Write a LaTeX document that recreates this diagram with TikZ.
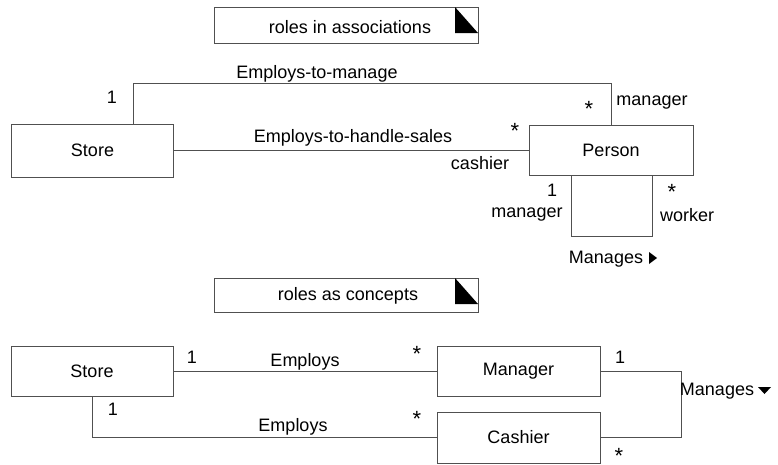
\documentclass[tikz,border=0pt]{standalone}
\usepackage{fontspec}
\setmainfont{Liberation Sans}
\usepackage{tikz}
\definecolor{linec}{HTML}{505050}

\begin{document}
\begin{tikzpicture}[x=1pt, y=-1pt,
  every node/.style={font=\fontsize{18}{20}\selectfont},
  cls/.style={draw=linec, line width=0.9pt, fill=white, minimum height=50pt, inner sep=0pt},
  lbl/.style={inner sep=0pt},
  mult/.style={inner sep=0pt, font=\fontsize{22}{24}\selectfont},
  assoc/.style={draw=linec, line width=0.9pt}]
  \useasboundingbox (0,0) rectangle (778,464);

  % notes
  \draw[assoc] (214,7) rectangle (478,43);
  \fill (455,7) -- (455,33) -- (478,33) -- cycle;
  \node[lbl] at (350,27) (note1) {roles in associations};
  \draw[assoc] (214,278) rectangle (478,312);
  \fill (455,278) -- (455,304) -- (478,304) -- cycle;
  \node[lbl] at (348,296) (note2) {roles as concepts};

  % roles in associations
  \node[cls, minimum width=162pt, minimum height=53pt] at (92.5,150.5) (store1) {Store};
  \node[cls, minimum width=164pt] at (611,150) (person) {Person};
  \draw[assoc] ([xshift=40.5pt]store1.north) -- ++(0,-40) -| (person.north);
  \draw[assoc] (store1.east |- person.west) -- (person.west);
  \draw[assoc] ([xshift=-40pt]person.south) -- ++(0,61) -| ([xshift=41pt]person.south);
  \node[lbl] at (112,97) (m1) {1};
  \node[lbl] at (317,74) (emgr) {Employs-to-manage};
  \node[mult] at (589,109) (m2) {*};
  \node[lbl] at (652,103) (r1) {manager};
  \node[mult] at (515,131) (m3) {*};
  \node[lbl] at (353,138) (esales) {Employs-to-handle-sales};
  \node[lbl] at (480,163) (r2) {cashier};
  \node[lbl] at (552,190) (m4) {1};
  \node[lbl] at (527,215) (r3) {manager};
  \node[mult] at (672,192) (m5) {*};
  \node[lbl] at (687,215) (r4) {worker};
  \node[lbl] at (606,259) (mng1) {Manages};
  \fill (649,252) -- (649,264) -- (657,258) -- cycle;

  % roles as concepts
  \node[cls, minimum width=162pt] at (92,371) (store2) {Store};
  \node[cls, minimum width=163pt] at (518.5,371) (manager) {Manager};
  \node[cls, minimum width=163pt, minimum height=51pt] at (518.5,437.5) (cashier) {Cashier};
  \draw[assoc] (store2.east) -- (manager.west);
  \draw[assoc] (store2.south) |- (cashier.west);
  \draw[assoc] (manager.east) -- ++(81,0) |- (cashier.east);
  \node[lbl] at (192,357) (n1) {1};
  \node[lbl] at (305,362) (emp1) {Employs};
  \node[lbl] at (113,409) (n2) {1};
  \node[lbl] at (293,427) (emp2) {Employs};
  \node[mult] at (417,354) (n3) {*};
  \node[mult] at (417,419) (n4) {*};
  \node[lbl] at (620,357) (n5) {1};
  \node[mult] at (619,455.5) (n6) {*};
  \node[lbl] at (717,391) (mng2) {Manages};
  \fill (758,387) -- (771,387) -- (764.5,394) -- cycle;
\end{tikzpicture}
\end{document}
